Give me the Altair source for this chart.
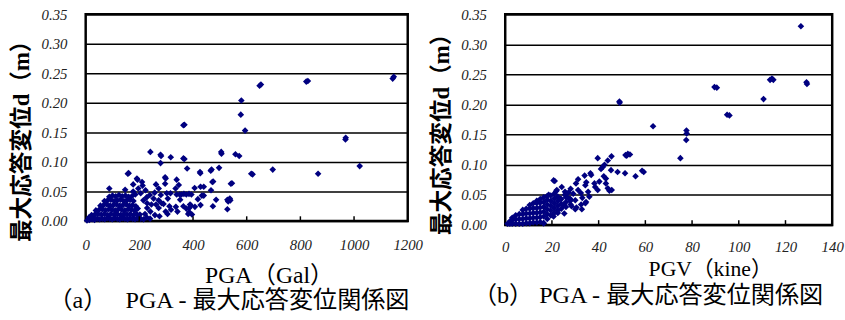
import altair as alt
import pandas as pd

# ---------------- data ----------------
# (a) PGA (Gal) vs max response displacement d (m)
pga_x = [1144, 1148, 822, 828, 648, 653, 580, 578, 594, 364, 368, 968, 969, 1021, 866, 697,
         617, 622, 558, 572, 506, 505, 497, 466, 469, 426, 427, 364, 368, 378,
         317, 279, 281, 279, 241, 157, 160, 191, 193, 210, 177, 196, 147, 88, 177, 223,
         239, 227, 229, 245, 241, 221, 272, 296, 298, 296, 280, 272, 306, 316, 290, 312,
         339, 347, 339, 350, 357, 366, 375, 385, 394, 406, 428, 440, 428, 418, 392, 386,
         407, 382, 386, 364, 352, 467, 472, 475, 486, 474, 528, 531, 528, 541, 545, 335,
         302, 262, 257, 253, 272, 298, 318, 336, 342, 229, 258, 275, 305, 262, 283, 212,
         205, 215, 539, 537, 433, 440, 396, 375, 389,
         5, 14, 24, 33, 43, 52, 62, 71, 80, 90, 99, 108, 118, 127, 137, 146, 156, 165, 175,
         184, 194, 205, 216, 228, 240,
         22, 34, 46, 58, 70, 82, 94, 106, 118, 130, 142, 154, 166, 178, 190, 202,
         38, 50, 62, 74, 86, 98, 110, 122, 134, 146, 158, 170, 182, 194,
         55, 67, 79, 91, 103, 115, 127, 139, 151, 163, 175, 187,
         70, 82, 94, 106, 118, 130, 142, 154, 166, 178,
         88, 100, 112, 124, 136, 148, 160, 172, 12, 28, 185]
pga_d = [0.241, 0.244, 0.236, 0.237, 0.229, 0.231, 0.204, 0.180, 0.153, 0.162, 0.163, 0.138, 0.141, 0.093, 0.080, 0.087,
         0.080, 0.079, 0.113, 0.110, 0.114, 0.117, 0.090, 0.085, 0.087, 0.083, 0.081, 0.106, 0.105, 0.089,
         0.108, 0.112, 0.110, 0.098, 0.117, 0.080, 0.081, 0.072, 0.070, 0.066, 0.062, 0.055, 0.053, 0.055, 0.050, 0.052,
         0.044, 0.040, 0.030, 0.028, 0.016, 0.012, 0.055, 0.074, 0.072, 0.063, 0.044, 0.035, 0.038, 0.047, 0.029, 0.025,
         0.070, 0.061, 0.045, 0.045, 0.045, 0.046, 0.045, 0.046, 0.045, 0.056, 0.058, 0.043, 0.027, 0.037, 0.026, 0.022,
         0.024, 0.012, 0.015, 0.025, 0.036, 0.052, 0.066, 0.067, 0.036, 0.025, 0.036, 0.033, 0.020, 0.063, 0.064, 0.055,
         0.047, 0.062, 0.048, 0.038, 0.022, 0.016, 0.019, 0.024, 0.016, 0.022, 0.010, 0.008, 0.012, 0.028, 0.030, 0.060,
         0.047, 0.035, 0.035, 0.038, 0.043, 0.058, 0.011, 0.021, 0.028,
         0.001, 0.002, 0.003, 0.002, 0.004, 0.003, 0.004, 0.003, 0.005, 0.004, 0.003, 0.005, 0.004, 0.003, 0.005, 0.004, 0.003, 0.005, 0.004,
         0.003, 0.005, 0.004, 0.003, 0.006, 0.004,
         0.010, 0.011, 0.012, 0.011, 0.012, 0.010, 0.012, 0.011, 0.012, 0.010, 0.012, 0.011, 0.012, 0.010, 0.012, 0.011,
         0.018, 0.019, 0.020, 0.018, 0.020, 0.019, 0.018, 0.020, 0.019, 0.018, 0.020, 0.019, 0.018, 0.021,
         0.026, 0.027, 0.028, 0.026, 0.027, 0.028, 0.026, 0.027, 0.028, 0.026, 0.027, 0.025,
         0.034, 0.035, 0.036, 0.034, 0.035, 0.036, 0.034, 0.035, 0.036, 0.034,
         0.041, 0.043, 0.042, 0.044, 0.042, 0.043, 0.041, 0.042, 0.006, 0.007, 0.045]

# (b) PGV (kine) vs max response displacement d (m)
pgv_x = [126.6, 129.0, 129.2, 113.4, 114.2, 114.8, 110.6, 89.6, 90.6, 95.0, 96.0, 77.6, 77.7, 77.5, 75.0, 63.3, 48.9, 49.0,
         51.5, 52.5, 53.4, 52.0, 45.5, 43.9, 42.5, 41.7, 41.0, 39.6, 45.3, 48.1, 51.3, 55.8, 58.6, 59.3, 42.2, 40.3,
         43.1, 39.6, 44.6, 45.6, 31.2, 20.7, 21.2, 36.8, 34.7, 34.3, 38.2, 38.5, 43.1, 43.9, 31.2, 34.3, 34.6, 32.5,
         29.1, 27.1, 25.6, 27.8, 28.4, 30.5, 24.9, 23.5, 22.1, 24.2, 18.6, 22.5, 20.7, 25.3, 16.4, 30.3, 32.4, 32.8,
         30.0, 21.8, 28.0, 26.5, 33.0, 30.0, 35.5, 36.0, 34.0, 36.5, 25.6, 27.7,
         1.0, 2.0, 2.0, 3.0, 3.0, 3.0, 4.5, 4.5, 4.5, 6.0, 6.0, 6.0, 7.5, 7.5, 7.5, 7.5, 9.0, 9.0, 9.0, 9.0,
         10.5, 10.5, 10.5, 10.5, 10.5, 12.0, 12.0, 12.0, 12.0, 12.0, 13.5, 13.5, 13.5, 13.5, 13.5, 13.5,
         15.0, 15.0, 15.0, 15.0, 15.0, 15.0, 16.5, 16.5, 16.5, 16.5, 16.5, 16.5, 18.0, 18.0, 18.0, 18.0, 18.0, 18.0,
         19.5, 19.5, 19.5, 19.5, 19.5, 21.0, 21.0, 21.0, 21.0, 21.0, 22.5, 22.5, 22.5, 22.5, 24.0, 24.0, 24.0,
         26.0, 26.0, 26.0, 28.0, 28.0]
pgv_d = [0.330, 0.237, 0.234, 0.241, 0.243, 0.241, 0.209, 0.229, 0.228, 0.183, 0.182, 0.157, 0.152, 0.141, 0.111, 0.164, 0.205, 0.203,
         0.116, 0.118, 0.117, 0.115, 0.114, 0.107, 0.100, 0.096, 0.093, 0.111, 0.091, 0.088, 0.086, 0.081, 0.090, 0.088, 0.081, 0.072,
         0.069, 0.058, 0.057, 0.058, 0.076, 0.074, 0.073, 0.083, 0.071, 0.066, 0.069, 0.063, 0.077, 0.061, 0.058, 0.036, 0.038, 0.034,
         0.052, 0.054, 0.050, 0.040, 0.031, 0.029, 0.033, 0.044, 0.058, 0.063, 0.050, 0.020, 0.014, 0.019, 0.003, 0.069, 0.053, 0.026,
         0.026, 0.056, 0.060, 0.046, 0.045, 0.041, 0.055, 0.047, 0.082, 0.086, 0.055, 0.044,
         0.002, 0.002, 0.006, 0.002, 0.008, 0.012, 0.002, 0.009, 0.016, 0.002, 0.010, 0.018, 0.002, 0.010, 0.018, 0.025,
         0.003, 0.011, 0.019, 0.027,
         0.003, 0.011, 0.019, 0.027, 0.033, 0.004, 0.012, 0.020, 0.028, 0.036, 0.004, 0.012, 0.020, 0.028, 0.036, 0.040,
         0.005, 0.013, 0.021, 0.029, 0.037, 0.043, 0.003, 0.014, 0.022, 0.030, 0.038, 0.046, 0.010, 0.018, 0.026, 0.034, 0.042, 0.048,
         0.016, 0.024, 0.032, 0.040, 0.049, 0.020, 0.028, 0.036, 0.044, 0.052, 0.024, 0.032, 0.040, 0.047, 0.027, 0.035, 0.043,
         0.030, 0.038, 0.046, 0.034, 0.042]

pga_ticks = [200, 400, 600, 800, 1000]
pgv_ticks = [20, 40, 60, 80, 100, 120]
y_values = [0.0, 0.05, 0.1, 0.15, 0.2, 0.25, 0.3, 0.35]

y_title = "最大応答変位d（m）"
caption_a = "（a）　 PGA - 最大応答変位関係図"
caption_b = "（b）  PGA - 最大応答変位関係図"

FONT = "Liberation Serif, Noto Sans CJK JP, serif"
NUMFONT = "Liberation Serif"
NAVY = "#000080"


def panel(xs, ds, ticks, xmax, xstep, w, h, xtitle, x_tfs, x_tx, x_ty, x_lpad,
          y_tx, y_ty, caption, cap_dx, cap_offset):
    df = pd.DataFrame({"x": xs, "d": ds})
    xscale = alt.Scale(domain=[0, xmax], nice=False, zero=True)
    yscale = alt.Scale(domain=[0, 0.35], nice=False)
    xaxis = alt.Axis(
        values=list(range(0, xmax + 1, xstep)), format="d", grid=False,
        ticks=False, domain=False, labelFont=NUMFONT, labelFontStyle="italic",
        labelFontSize=15, labelColor="#222", labelPadding=x_lpad,
        labelOverlap=False, labelFlush=False, title=xtitle, titleFont=FONT,
        titleFontSize=x_tfs, titleFontWeight="normal", titleColor="black",
        titleX=x_tx, titleY=x_ty, titleAlign="center",
        titleBaseline="alphabetic")
    yaxis = alt.Axis(
        values=y_values, format=".2f", grid=True, gridColor="black",
        gridWidth=1.5, gridOpacity=1, ticks=False, domain=False,
        labelOverlap=False, labelFlush=False, tickCount=8,
        labelFont=NUMFONT, labelFontStyle="italic", labelFontSize=15,
        labelColor="#222", labelPadding=19, title=y_title,
        titleFont=FONT, titleFontSize=23, titleFontWeight="bold",
        titleColor="black", titleAngle=-90, titleX=y_tx, titleY=y_ty,
        titleAlign="center", titleBaseline="bottom")
    pts = alt.Chart(df).mark_point(
        shape="diamond", filled=True, size=45, color=NAVY, opacity=1
    ).encode(
        x=alt.X("x:Q", scale=xscale, axis=xaxis),
        y=alt.Y("d:Q", scale=yscale, axis=yaxis),
    )
    tkdf = pd.DataFrame({"x": ticks, "d": [0.0] * len(ticks),
                         "d1": [0.008] * len(ticks)})
    tk = alt.Chart(tkdf).mark_rule(color="black", strokeWidth=1.5).encode(
        x=alt.X("x:Q", scale=xscale, axis=xaxis),
        y=alt.Y("d:Q", scale=yscale, axis=yaxis),
        y2="d1:Q",
    )
    return alt.layer(pts, tk).properties(
        width=w, height=h,
        title=alt.TitleParams(caption, orient="bottom", anchor="middle",
                              frame="group", font=FONT, fontSize=24.5,
                              fontWeight="normal", color="black",
                              dx=cap_dx, offset=cap_offset),
    )


left = panel(pga_x, pga_d, pga_ticks, 1200, 200, 327, 210, "PGA（Gal）", 24,
             186, 62, 17, -53, 123, caption_a, -18, 2)
right = panel(pgv_x, pgv_d, pgv_ticks, 140, 20, 332, 214, "PGV（kine）", 22,
              208, 51, 15, -53, 116, caption_b, -21, 5)

chart = alt.hconcat(left, right, spacing=99, bounds="flush").properties(
    padding={"left": 9, "top": 3, "right": 0, "bottom": 0},
    background="white",
).configure_view(stroke="black", strokeWidth=2.5)

chart.save("out.html", embed_options={"renderer": "svg", "actions": False})
